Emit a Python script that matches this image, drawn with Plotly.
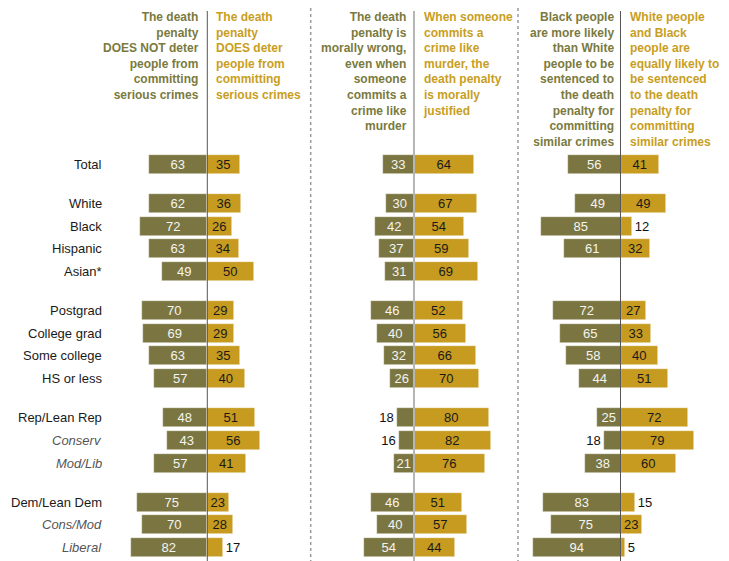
import plotly.graph_objects as go

# ---------------- data ----------------
rows = ["Total", "White", "Black", "Hispanic", "Asian*",
        "Postgrad", "College grad", "Some college", "HS or less",
        "Rep/Lean Rep", "Conserv", "Mod/Lib",
        "Dem/Lean Dem", "Cons/Mod", "Liberal"]
groups = [0, 1, 1, 1, 1, 2, 2, 2, 2, 3, 3, 3, 4, 4, 4]
italic_rows = ["Conserv", "Mod/Lib", "Cons/Mod", "Liberal"]

does_not_deter = [63, 62, 72, 63, 49, 70, 69, 63, 57, 48, 43, 57, 75, 70, 82]
does_deter = [35, 36, 26, 34, 50, 29, 29, 35, 40, 51, 56, 41, 23, 28, 17]
morally_wrong = [33, 30, 42, 37, 31, 46, 40, 32, 26, 18, 16, 21, 46, 40, 54]
morally_justified = [64, 67, 54, 59, 69, 52, 56, 66, 70, 80, 82, 76, 51, 57, 44]
black_more_likely = [56, 49, 85, 61, None, 72, 65, 58, 44, 25, 18, 38, 83, 75, 94]
equally_likely = [41, 49, 12, 32, None, 27, 33, 40, 51, 72, 79, 60, 15, 23, 5]

headers = [
    ("The death<br>penalty<br>DOES NOT deter<br>people from<br>committing<br>serious crimes",
     "The death<br>penalty<br>DOES deter<br>people from<br>committing<br>serious crimes"),
    ("The death<br>penalty is<br>morally wrong,<br>even when<br>someone<br>commits a<br>crime like<br>murder",
     "When someone<br>commits a<br>crime like<br>murder, the<br>death penalty<br>is morally<br>justified"),
    ("Black people<br>are more likely<br>than White<br>people to be<br>sentenced to<br>the death<br>penalty for<br>committing<br>similar crimes",
     "White people<br>and Black<br>people are<br>equally likely to<br>be sentenced<br>to the death<br>penalty for<br>committing<br>similar crimes"),
]

# ---------------- styling ----------------
W, H = 729, 561
OFF = 8  # page body margin
OLIVE = "#7b7641"
GOLD = "#c69b1f"
OLIVE_TXT = "#7a7a40"
GOLD_TXT = "#c89e22"
FONT = "Liberation Sans, Arial, sans-serif"
GAP = 0.73
PITCH = 22.65
Y0 = 164.3 - OFF
PXPCT = 0.933


def px(x):
    return (x - OFF) / W


def py(y):
    return 1 - (y - OFF) / H


ypos = [i + GAP * g for i, g in enumerate(groups)]

panels = [
    dict(domain_px=(110, 310), center=207.3, line="#555555", lw=1,
         left=does_not_deter, right=does_deter, hl=200.5, hr=214),
    dict(domain_px=(312, 516), center=414.0, line="#b5b5b5", lw=2,
         left=morally_wrong, right=morally_justified, hl=409.5, hr=421),
    dict(domain_px=(520, 729), center=620.5, line="#555555", lw=1,
         left=black_more_likely, right=equally_likely, hl=615.5, hr=627.5),
]

fig = go.Figure()
axis_names = ["x", "x2", "x3"]


def pos(vals):
    return ["inside" if (v is not None and v >= 20) else "outside" for v in vals]


def txt(vals):
    return ["" if v is None else str(v) for v in vals]


for k, p in enumerate(panels):
    ax = axis_names[k]
    lv = [None if v is None else -v for v in p["left"]]
    fig.add_trace(go.Bar(
        y=ypos, x=lv, base=0, orientation="h", width=0.84,
        xaxis=ax, yaxis="y",
        marker=dict(color=OLIVE, line=dict(color="rgba(255,255,255,0.7)", width=0.6)),
        text=txt(p["left"]), textposition=pos(p["left"]), textangle=0,
        insidetextanchor="middle", constraintext="none",
        insidetextfont=dict(color="#f4f4f0", size=13, family=FONT),
        outsidetextfont=dict(color="#111111", size=13, family=FONT),
        cliponaxis=False, hoverinfo="skip", showlegend=False))
    fig.add_trace(go.Bar(
        y=ypos, x=p["right"], base=0, orientation="h", width=0.84,
        xaxis=ax, yaxis="y",
        marker=dict(color=GOLD, line=dict(color="rgba(255,255,255,0.7)", width=0.6)),
        text=txt(p["right"]), textposition=pos(p["right"]), textangle=0,
        insidetextanchor="middle", constraintext="none",
        insidetextfont=dict(color="#1a1a1a", size=13, family=FONT),
        outsidetextfont=dict(color="#111111", size=13, family=FONT),
        cliponaxis=False, hoverinfo="skip", showlegend=False))

layout_axes = {}
for k, p in enumerate(panels):
    a, b = p["domain_px"]
    a, b, c = a - OFF, min(b - OFF, W), p["center"] - OFF
    rng = [-(c - a) / PXPCT, (b - c) / PXPCT]
    key = "xaxis" if k == 0 else f"xaxis{k+1}"
    layout_axes[key] = dict(domain=[a / W, b / W], range=rng, anchor="y",
                            visible=False, fixedrange=True)

ytop = -Y0 / PITCH
ybot = (H - Y0) / PITCH
fig.update_layout(
    width=W, height=H, margin=dict(l=0, r=0, t=0, b=0),
    paper_bgcolor="white", plot_bgcolor="white",
    barmode="overlay", bargap=0,
    yaxis=dict(range=[ybot, ytop], visible=False, fixedrange=True),
    font=dict(family=FONT, size=13, color="#222222"),
    **layout_axes)

# row labels
for r, y in zip(rows, ypos):
    it = r in italic_rows
    fig.add_annotation(
        x=px(104), xref="paper", y=y, yref="y", xanchor="right", yanchor="middle",
        text=f"<i>{r}</i>" if it else r, showarrow=False,
        font=dict(size=13, color="#555555" if it else "#1a1a1a", family=FONT))

# headers
for k, p in enumerate(panels):
    lt, rt = headers[k]
    fig.add_annotation(x=px(p["hl"]), xref="paper", y=py(8), yref="paper",
                       xanchor="right", yanchor="top", align="right", text=f"<b>{lt}</b>",
                       showarrow=False, font=dict(size=12, color=OLIVE_TXT, family=FONT))
    fig.add_annotation(x=px(p["hr"]), xref="paper", y=py(8), yref="paper",
                       xanchor="left", yanchor="top", align="left", text=f"<b>{rt}</b>",
                       showarrow=False, font=dict(size=12, color=GOLD_TXT, family=FONT))

# center lines
for k, p in enumerate(panels):
    fig.add_shape(type="line", xref=axis_names[k], yref="paper", x0=0, x1=0,
                  y0=0, y1=py(11), layer="above",
                  line=dict(color=p["line"], width=p["lw"]))

# dotted separators
for xs in [310.7, 518.0]:
    fig.add_shape(type="line", xref="paper", yref="paper", x0=px(xs), x1=px(xs),
                  y0=0, y1=py(8), layer="above",
                  line=dict(color="#9a9a9a", width=1.5, dash="dot"))

fig.write_html("out.html")
